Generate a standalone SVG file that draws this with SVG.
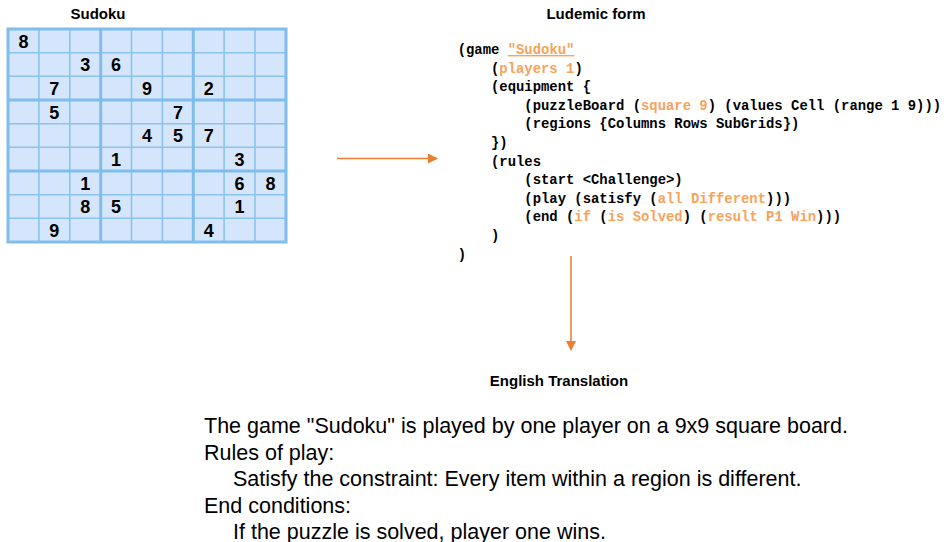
<svg xmlns="http://www.w3.org/2000/svg" width="949" height="542" viewBox="0 0 949 542">
<defs>
<style>
.title{font-family:"Liberation Sans",Arial,sans-serif;font-weight:bold;font-size:15px;fill:#000;text-anchor:middle}
.dig{font-family:"Liberation Sans",Arial,sans-serif;font-weight:bold;font-size:18px;fill:#000;text-anchor:middle}
.code{font-family:"Liberation Mono","Courier New",monospace;font-weight:bold;font-size:13.9px;fill:#000;white-space:pre}
.o{fill:#f7a35c}
.body{font-family:"Liberation Sans",Arial,sans-serif;font-size:21.5px;fill:#000}
.thin{stroke:#8ac4ee;stroke-width:1.6;fill:none}
.thick{stroke:#7fbdeb;stroke-width:3;fill:none}
.conn{stroke:#ed7d31;stroke-width:1.5;fill:none}
</style>
<marker id="ah" viewBox="0 0 10 10" refX="9" refY="5" markerWidth="10" markerHeight="10" markerUnits="userSpaceOnUse" orient="auto">
<path d="M0,0 L10,5 L0,10 z" fill="#ed7d31"/>
</marker>
</defs>

<g id="sudoku">
<text class="title" x="98" y="19">Sudoku</text>
<rect x="8" y="29" width="278" height="213" fill="#d5e5fb"/>
<g class="thin">
<line x1="38.9" y1="29" x2="38.9" y2="242"/>
<line x1="69.8" y1="29" x2="69.8" y2="242"/>
<line x1="131.5" y1="29" x2="131.5" y2="242"/>
<line x1="162.4" y1="29" x2="162.4" y2="242"/>
<line x1="224.1" y1="29" x2="224.1" y2="242"/>
<line x1="255" y1="29" x2="255" y2="242"/>
<line x1="8" y1="52.7" x2="286" y2="52.7"/>
<line x1="8" y1="76.3" x2="286" y2="76.3"/>
<line x1="8" y1="123.7" x2="286" y2="123.7"/>
<line x1="8" y1="147.3" x2="286" y2="147.3"/>
<line x1="8" y1="194.7" x2="286" y2="194.7"/>
<line x1="8" y1="218.3" x2="286" y2="218.3"/>
</g>
<g class="thick">
<line x1="100.7" y1="29" x2="100.7" y2="242"/>
<line x1="193.3" y1="29" x2="193.3" y2="242"/>
<line x1="8" y1="100" x2="286" y2="100"/>
<line x1="8" y1="171" x2="286" y2="171"/>
<rect x="8" y="29" width="278" height="213"/>
</g>
<g class="dig">
<text x="23.4" y="47.5">8</text>
<text x="85.2" y="71.2">3</text><text x="116.1" y="71.2">6</text>
<text x="54.3" y="94.8">7</text><text x="147" y="94.8">9</text><text x="208.7" y="94.8">2</text>
<text x="54.3" y="118.5">5</text><text x="177.9" y="118.5">7</text>
<text x="147" y="142.2">4</text><text x="177.9" y="142.2">5</text><text x="208.7" y="142.2">7</text>
<text x="116.1" y="165.8">1</text><text x="239.6" y="165.8">3</text>
<text x="85.2" y="189.5">1</text><text x="239.6" y="189.5">6</text><text x="270.5" y="189.5">8</text>
<text x="85.2" y="213.2">8</text><text x="116.1" y="213.2">5</text><text x="239.6" y="213.2">1</text>
<text x="54.3" y="236.8">9</text><text x="208.7" y="236.8">4</text>
</g>
</g>

<g id="ludemic">
<text class="title" x="596" y="19">Ludemic form</text>
<g class="code">
<text x="457.7" y="54">(game <tspan class="o" text-decoration="underline">"Sudoku"</tspan></text>
<text x="491" y="72.6">(<tspan class="o">players 1</tspan>)</text>
<text x="491" y="91.2">(equipment {</text>
<text x="524.3" y="109.8">(puzzleBoard (<tspan class="o">square 9</tspan>) (values Cell (range 1 9)))</text>
<text x="524.3" y="128.4">(regions {Columns Rows SubGrids})</text>
<text x="491" y="147">})</text>
<text x="491" y="165.6">(rules</text>
<text x="524.3" y="184.2">(start &lt;Challenge&gt;)</text>
<text x="524.3" y="202.8">(play (satisfy (<tspan class="o">all Different</tspan>)))</text>
<text x="524.3" y="221.4">(end (<tspan class="o">if</tspan> (<tspan class="o">is Solved</tspan>) (<tspan class="o">result P1 Win</tspan>)))</text>
<text x="491" y="240">)</text>
<text x="457.7" y="258.6">)</text>
</g>
</g>

<g id="english">
<text class="title" x="559" y="386">English Translation</text>
<g class="body">
<text x="204" y="433">The game "Sudoku" is played by one player on a 9x9 square board.</text>
<text x="204" y="459.5">Rules of play:</text>
<text x="233" y="486">Satisfy the constraint: Every item within a region is different.</text>
<text x="204" y="512.5">End conditions:</text>
<text x="233" y="538.5">If the puzzle is solved, player one wins.</text>
</g>
</g>

<g id="connectors">
<line class="conn" x1="337" y1="158.5" x2="437" y2="158.5" marker-end="url(#ah)"/>
<line class="conn" x1="571" y1="256" x2="571" y2="350" marker-end="url(#ah)"/>
</g>
</svg>
